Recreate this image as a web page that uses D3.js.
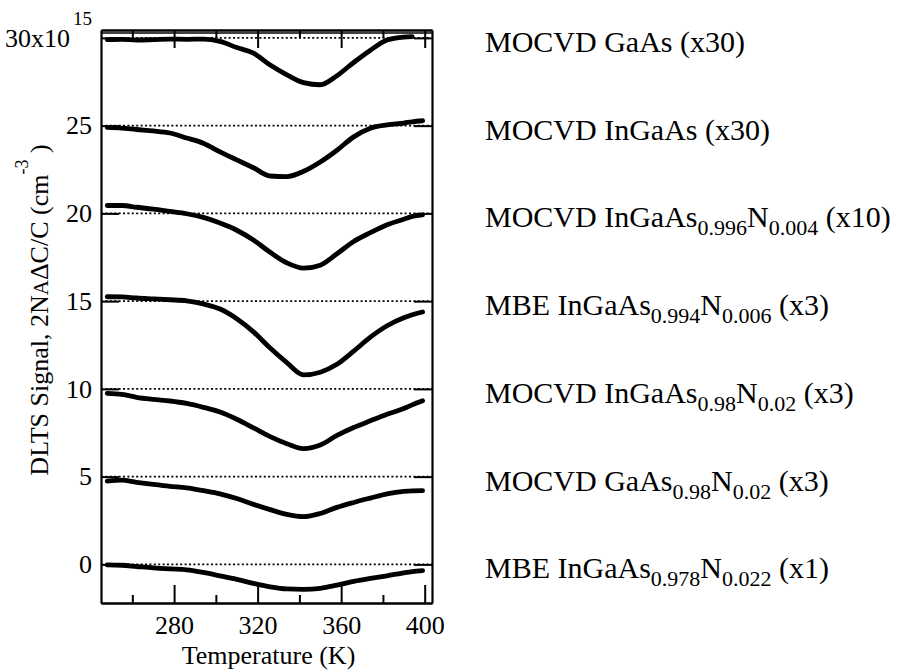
<!DOCTYPE html>
<html>
<head>
<meta charset="utf-8">
<script src="https://cdn.jsdelivr.net/npm/d3@7"></script>
<style>
  body { margin: 0; background: #fff; }
  svg { display: block; }
  text { font-family: "Liberation Serif", "Times New Roman", serif; fill: #000; }
</style>
</head>
<body>
<div id="chart"></div>
<script>
// temperature grid (K) shared by all traces
const temps = [248, 255, 262, 270, 278, 286, 294, 302, 310, 318, 326, 334, 342, 350, 358, 366, 374, 382, 390, 394, 399];

// DLTS signal (x10^15 cm^-3), already offset and scaled as plotted
const mocvdGaAs = [29.9, 29.92, 29.88, 29.9, 29.93, 29.92, 29.93, 29.8, 29.45, 29.13, 28.45, 27.9, 27.45, 27.33, 27.85, 28.6, 29.3, 29.88, 30.05, 30.07, null];
const mocvdInGaAs = [24.9, 24.86, 24.78, 24.7, 24.58, 24.3, 24.0, 23.5, 23.05, 22.6, 22.13, 22.1, 22.4, 22.93, 23.6, 24.36, 24.85, 25.04, 25.15, 25.22, 25.28];
const mocvdInGaAsN004 = [20.45, 20.45, 20.35, 20.24, 20.11, 19.98, 19.77, 19.45, 19.04, 18.48, 17.78, 17.18, 16.88, 17.05, 17.7, 18.4, 18.9, 19.35, 19.67, 19.83, 19.92];
const mbeInGaAsN006 = [15.25, 15.24, 15.18, 15.13, 15.08, 15.02, 14.84, 14.55, 14.0, 13.25, 12.33, 11.5, 10.8, 10.95, 11.4, 12.15, 12.95, 13.6, 14.05, 14.22, 14.38];
const mocvdInGaAsN02 = [9.75, 9.69, 9.52, 9.4, 9.31, 9.17, 8.95, 8.68, 8.27, 7.78, 7.28, 6.88, 6.6, 6.8, 7.35, 7.8, 8.18, 8.55, 8.88, 9.09, 9.32];
const mocvdGaAsN02 = [4.75, 4.8, 4.68, 4.56, 4.45, 4.36, 4.2, 4.02, 3.75, 3.42, 3.12, 2.85, 2.72, 2.9, 3.25, 3.53, 3.78, 4.02, 4.16, 4.19, 4.2];
const mbeInGaAsN022 = [-0.03, -0.05, -0.12, -0.2, -0.26, -0.31, -0.46, -0.65, -0.85, -1.08, -1.28, -1.4, -1.42, -1.36, -1.18, -0.97, -0.8, -0.65, -0.48, -0.41, -0.36];

const traces = [mocvdGaAs, mocvdInGaAs, mocvdInGaAsN004, mbeInGaAsN006, mocvdInGaAsN02, mocvdGaAsN02, mbeInGaAsN022];
const offsets = [30, 25, 20, 15, 10, 5, 0];

// legend labels: [text, isSubscript]
const labels = [
  [['MOCVD GaAs (x30)', 0]],
  [['MOCVD InGaAs (x30)', 0]],
  [['MOCVD InGaAs', 0], ['0.996', 1], ['N', 0], ['0.004', 1], [' (x10)', 0]],
  [['MBE InGaAs', 0], ['0.994', 1], ['N', 0], ['0.006', 1], [' (x3)', 0]],
  [['MOCVD InGaAs', 0], ['0.98', 1], ['N', 0], ['0.02', 1], [' (x3)', 0]],
  [['MOCVD GaAs', 0], ['0.98', 1], ['N', 0], ['0.02', 1], [' (x3)', 0]],
  [['MBE InGaAs', 0], ['0.978', 1], ['N', 0], ['0.022', 1], [' (x1)', 0]]
];

const xMajor = [280, 320, 360, 400];
const xMinor = [260, 300, 340, 380];
const yTicks = [0, 5, 10, 15, 20, 25, 30];

const width = 907, height = 670;
const plotL = 101, plotR = 432, plotT = 30, plotB = 603;

const x = d3.scaleLinear().domain([245, 403.5]).range([plotL, plotR]);
const y = d3.scaleLinear().domain([-2.2, 30.45]).range([plotB, plotT]);

const svg = d3.select('#chart').append('svg')
  .attr('width', width)
  .attr('height', height);

// zero lines for each trace
svg.append('g')
  .selectAll('line')
  .data(offsets)
  .enter().append('line')
  .attr('x1', plotL).attr('x2', plotR)
  .attr('y1', d => y(d)).attr('y2', d => y(d))
  .attr('stroke', '#000')
  .attr('stroke-width', 1.6)
  .attr('stroke-dasharray', '2,2.4');

// traces
const line = d3.line()
  .defined(d => d[1] != null)
  .x(d => x(d[0]))
  .y(d => y(d[1]))
  .curve(d3.curveMonotoneX);

svg.append('g')
  .selectAll('path')
  .data(traces)
  .enter().append('path')
  .attr('d', vals => line(vals.map((v, i) => [temps[i], v])))
  .attr('fill', 'none')
  .attr('stroke', '#000')
  .attr('stroke-width', 4.8)
  .attr('stroke-linejoin', 'round')
  .attr('stroke-linecap', 'round');

// axes, ticks point inward
const styleAxis = g => {
  g.select('.domain').attr('stroke-width', 2.2);
  g.selectAll('.tick line').attr('stroke-width', 2);
  g.selectAll('text').attr('font-size', 26).attr('font-family', '"Liberation Serif", "Times New Roman", serif');
};

svg.append('g')
  .attr('transform', `translate(0,${plotB})`)
  .call(d3.axisBottom(x).tickValues(xMajor).tickSize(-18).tickSizeOuter(0).tickPadding(13).tickFormat(d3.format('d')))
  .call(styleAxis);

svg.append('g')
  .attr('transform', `translate(0,${plotB})`)
  .call(d3.axisBottom(x).tickValues(xMinor).tickSize(-8).tickSizeOuter(0).tickFormat(''))
  .call(styleAxis);

svg.append('g')
  .attr('transform', `translate(0,${plotT})`)
  .call(d3.axisTop(x).tickValues(xMajor).tickSize(-18).tickSizeOuter(0).tickFormat(''))
  .call(styleAxis);

svg.append('g')
  .attr('transform', `translate(0,${plotT})`)
  .call(d3.axisTop(x).tickValues(xMinor).tickSize(-8).tickSizeOuter(0).tickFormat(''))
  .call(styleAxis);

// second rule just under the top edge
svg.append('line')
  .attr('x1', plotL).attr('x2', plotR)
  .attr('y1', plotT + 3).attr('y2', plotT + 3)
  .attr('stroke', '#000')
  .attr('stroke-width', 1.5);

const yAxis = svg.append('g')
  .attr('transform', `translate(${plotL},0)`)
  .call(d3.axisLeft(y).tickValues(yTicks).tickSize(-18).tickSizeOuter(0).tickPadding(9).tickFormat(d => d === 30 ? '' : d))
  .call(styleAxis);

// top label carries the 10^15 multiplier
const topLabel = yAxis.selectAll('.tick').filter(d => d === 30).select('text');
topLabel.append('tspan').text('30x10');
topLabel.append('tspan').attr('font-size', 19).attr('dy', -22).attr('dx', 3).text('15');

svg.append('g')
  .attr('transform', `translate(${plotR},0)`)
  .call(d3.axisRight(y).tickValues(yTicks).tickSize(-18).tickSizeOuter(0).tickFormat(''))
  .call(styleAxis);

// axis titles
svg.append('text')
  .attr('x', (plotL + plotR) / 2 + 2)
  .attr('y', 664)
  .attr('text-anchor', 'middle')
  .attr('font-size', 26)
  .text('Temperature (K)');

const yTitle = svg.append('text')
  .attr('transform', 'translate(48,310) rotate(-90)')
  .attr('text-anchor', 'middle')
  .attr('font-size', 26);
yTitle.append('tspan').text('DLTS Signal, 2N');
yTitle.append('tspan').attr('font-size', 21).text('A');
yTitle.append('tspan').text('\u0394C/C (cm');
yTitle.append('tspan').attr('font-size', 18).attr('dy', -20).text('-3');
yTitle.append('tspan').attr('dy', 20).text(' )');

// legend to the right of the frame
const legend = svg.append('g')
  .selectAll('text')
  .data(labels)
  .enter().append('text')
  .attr('x', 485)
  .attr('y', (d, i) => y(offsets[i]) + 14)
  .attr('font-size', 30);

legend.each(function (parts) {
  const t = d3.select(this);
  let shift = 0;
  parts.forEach(([txt, sub]) => {
    const want = sub ? 8 : 0;
    t.append('tspan')
      .attr('dy', want - shift)
      .attr('font-size', sub ? 22 : 30)
      .text(txt);
    shift = want;
  });
});
</script>
</body>
</html>
